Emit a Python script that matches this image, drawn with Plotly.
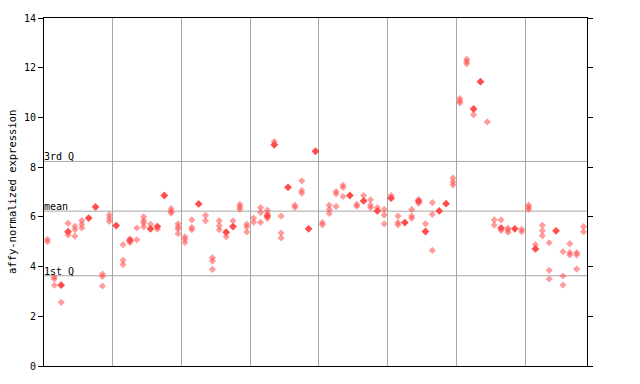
import plotly.graph_objects as go

# y-values per sample column (hatched/checkered markers)
hatched_values = [
    [5.1, 5.0], [3.58, 3.5, 3.25], [2.56], [5.74, 5.27], [5.62, 5.48, 5.22],
    [5.85, 5.7, 5.55], [], [], [3.7, 3.6, 3.22], [6.08, 5.95, 5.82],
    [], [4.88, 4.25, 4.08], [5.12, 4.97], [5.55, 5.08], [6.0, 5.85, 5.75, 5.6],
    [5.7], [5.5], [], [6.33, 6.22, 6.16], [5.72, 5.6, 5.5, 5.32],
    [5.2, 5.1, 4.97], [5.88, 5.57, 5.48], [], [6.06, 5.84], [4.35, 4.22, 3.89],
    [5.84, 5.64, 5.48], [5.2], [5.84], [6.5, 6.4, 6.31], [5.7, 5.6, 5.39],
    [5.95, 5.78], [6.37, 6.18, 5.78], [6.27, 6.14, 5.94], [9.03], [6.03, 5.35, 5.15],
    [], [6.47, 6.38], [7.45, 7.06, 6.95], [], [],
    [5.77, 5.68], [6.47, 6.3, 6.14], [7.02, 6.93, 6.42], [7.27, 7.18, 6.82], [],
    [6.5, 6.43], [6.86], [6.69, 6.47, 6.37], [6.37], [6.3, 6.07, 5.72],
    [6.86], [6.03, 5.77, 5.68], [], [6.3, 6.03, 5.94], [6.7, 6.55],
    [5.72], [6.57, 6.1, 4.65], [], [], [7.56, 7.4, 7.28],
    [10.76, 10.66, 10.58], [12.34, 12.25, 12.16], [10.11], [], [9.82],
    [5.88, 5.67], [5.88, 5.45], [5.55, 5.47, 5.38], [], [5.5, 5.4],
    [6.47, 6.38, 6.3], [4.88], [5.66, 5.44, 5.24], [4.96, 3.85, 3.5], [],
    [4.6, 3.62, 3.26], [4.92, 4.56, 4.47], [4.56, 4.47, 3.9], [5.61, 5.4],
]

# y-values per sample column (solid markers)
filled_values = [
    [], [], [3.25], [5.4], [], [], [5.95], [6.4], [], [],
    [5.65], [], [5.05], [], [], [5.52], [5.61], [6.86], [], [],
    [], [], [6.52], [], [], [], [5.38], [5.61], [], [],
    [], [], [6.03], [8.9], [], [7.19], [], [], [5.52], [8.64],
    [], [], [], [], [6.86], [], [6.64], [], [6.24], [],
    [6.75], [], [5.77], [], [6.63], [5.41], [], [6.24], [6.53], [],
    [], [], [10.34], [11.44], [], [], [5.55], [], [5.52], [],
    [], [4.71], [], [], [5.44], [], [], [], [],
]

y_ticks = [0, 2, 4, 6, 8, 10, 12, 14]
grid_positions = [10, 20, 30, 40, 50, 60, 70]
quartile_names = ["1st Q", "mean", "3rd Q"]
quartile_values = [3.63, 6.23, 8.23]

n_cols = len(hatched_values)

hx, hy, fx, fy = [], [], [], []
for i, vals in enumerate(hatched_values):
    for v in vals:
        hx.append(i + 0.5)
        hy.append(v)
for i, vals in enumerate(filled_values):
    for v in vals:
        fx.append(i + 0.5)
        fy.append(v)

RED = "#ff4d4d"
GRID = "#a6a6a6"
MONO = "DejaVu Sans Mono"

fig = go.Figure()
fig.add_trace(go.Scatter(
    x=hx, y=hy, mode="markers",
    marker=dict(symbol="diamond", size=5.5, color=RED, opacity=0.55,
                line=dict(width=0)),
    hoverinfo="y", showlegend=False))
fig.add_trace(go.Scatter(
    x=fx, y=fy, mode="markers",
    marker=dict(symbol="diamond", size=6, color=RED, line=dict(width=0)),
    hoverinfo="y", showlegend=False))

for name, val in zip(quartile_names, quartile_values):
    fig.add_shape(type="line", xref="x", yref="y", x0=0, x1=n_cols, y0=val, y1=val,
                  line=dict(color=GRID, width=1), layer="below")
    fig.add_annotation(x=0, y=val, xref="x", yref="y", text=name, showarrow=False,
                       xanchor="left", yanchor="bottom", xshift=-2, yshift=-3,
                       font=dict(family=MONO, size=10, color="black"))

fig.add_annotation(x=0, y=0.5, xref="paper", yref="paper",
                   text="affy-normalized expression", textangle=-90,
                   showarrow=False, xanchor="center", yanchor="middle", xshift=-32,
                   font=dict(family=MONO, size=10.5, color="black"))

fig.update_layout(
    width=640, height=384,
    margin=dict(l=44, r=53, t=14, b=15),
    paper_bgcolor="white", plot_bgcolor="white",
    xaxis=dict(range=[0, n_cols], tickvals=grid_positions, showticklabels=False,
               ticks="", showgrid=True, gridcolor=GRID, gridwidth=1,
               showline=True, linecolor="black", linewidth=1, mirror=True,
               zeroline=False, fixedrange=True),
    yaxis=dict(range=[0, 14], tickvals=y_ticks, ticks="outside", ticklen=5,
               tickcolor="black", showgrid=False, showline=True,
               linecolor="black", linewidth=1, mirror="ticks", zeroline=False,
               tickfont=dict(family=MONO, size=10, color="black"),
               fixedrange=True),
)

fig.write_html("out.html", config={"displayModeBar": False},
               post_script="document.body.style.margin='0';document.body.style.overflow='hidden';")
